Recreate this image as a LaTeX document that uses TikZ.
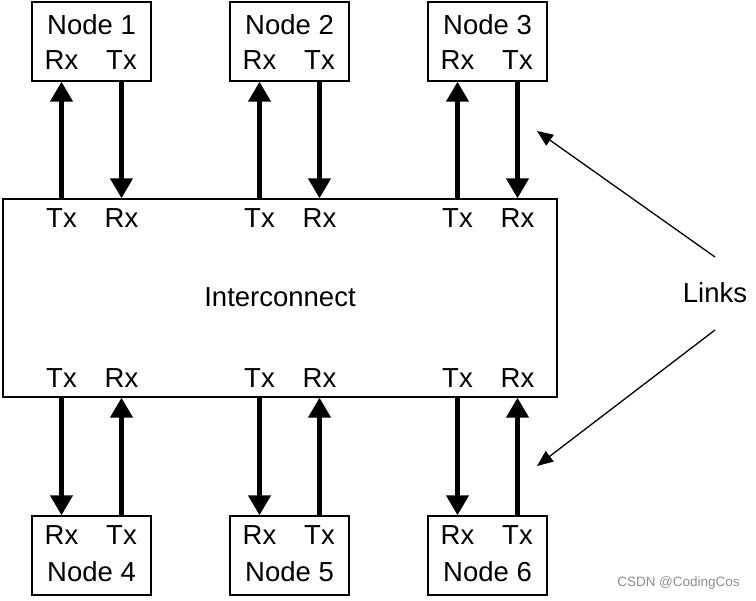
\documentclass[tikz,border=0pt]{standalone}
\usepackage{fontspec}
\setmainfont{Liberation Sans}
\usetikzlibrary{arrows.meta}
\begin{document}
\begin{tikzpicture}[x=1pt,y=-1pt,
  box/.style={draw,line width=1.4pt,minimum width=119pt,minimum height=79pt,inner sep=0pt},
  lbl/.style={inner sep=0pt,font=\fontsize{27.5}{31}\selectfont},
  link/.style={line width=4.3pt,-{Triangle[length=20pt,width=22pt]}},
  callout/.style={line width=1.3pt,-{Triangle[length=16pt,width=13pt]}}]
\useasboundingbox (0,0) rectangle (756,601);
% interconnect
\node[draw,line width=1.4pt,minimum width=554pt,minimum height=198pt,inner sep=0pt] (ic) at (280,298) {};
\node[lbl] (icl) at (280,297) {Interconnect};
% top nodes
\foreach \i/\cx in {1/91.5,2/289.5,3/487.5}{
  \node[box] (n\i) at (\cx,41.5) {};
  \node[lbl] (n\i name) at (\cx,24.5) {Node \i};
  \node[lbl] (n\i rx) at (\cx-30,60) {Rx};
  \node[lbl] (n\i tx) at (\cx+30,60) {Tx};
  \node[lbl] (it\i tx) at (\cx-30,218) {Tx};
  \node[lbl] (it\i rx) at (\cx+30,218) {Rx};
  \draw[link] (it\i tx |- ic.north) -- (n\i rx |- n\i.south);
  \draw[link] (n\i tx |- n\i.south) -- (it\i rx |- ic.north);
}
% bottom nodes
\foreach \i/\cx in {4/91.5,5/289.5,6/487.5}{
  \node[box] (n\i) at (\cx,555.5) {};
  \node[lbl] (n\i name) at (\cx,571.5) {Node \i};
  \node[lbl] (n\i rx) at (\cx-30,535.5) {Rx};
  \node[lbl] (n\i tx) at (\cx+30,535.5) {Tx};
  \node[lbl] (ib\i tx) at (\cx-30,378) {Tx};
  \node[lbl] (ib\i rx) at (\cx+30,378) {Rx};
  \draw[link] (ib\i tx |- ic.south) -- (n\i rx |- n\i.north);
  \draw[link] (n\i tx |- n\i.north) -- (ib\i rx |- ic.south);
}
% links callout
\node[lbl] (links) at (715,293) {Links};
\coordinate (l1s) at (715,257);
\coordinate (l1e) at (537,131);
\coordinate (l2s) at (715,330);
\coordinate (l2e) at (537,466);
\draw[callout] (l1s) -- (l1e);
\draw[callout] (l2s) -- (l2e);
% watermark
\node[inner sep=0pt,text=black!45,font=\fontsize{13.5}{15}\selectfont] (wm) at (678.5,583) {CSDN @CodingCos};
\end{tikzpicture}
\end{document}
